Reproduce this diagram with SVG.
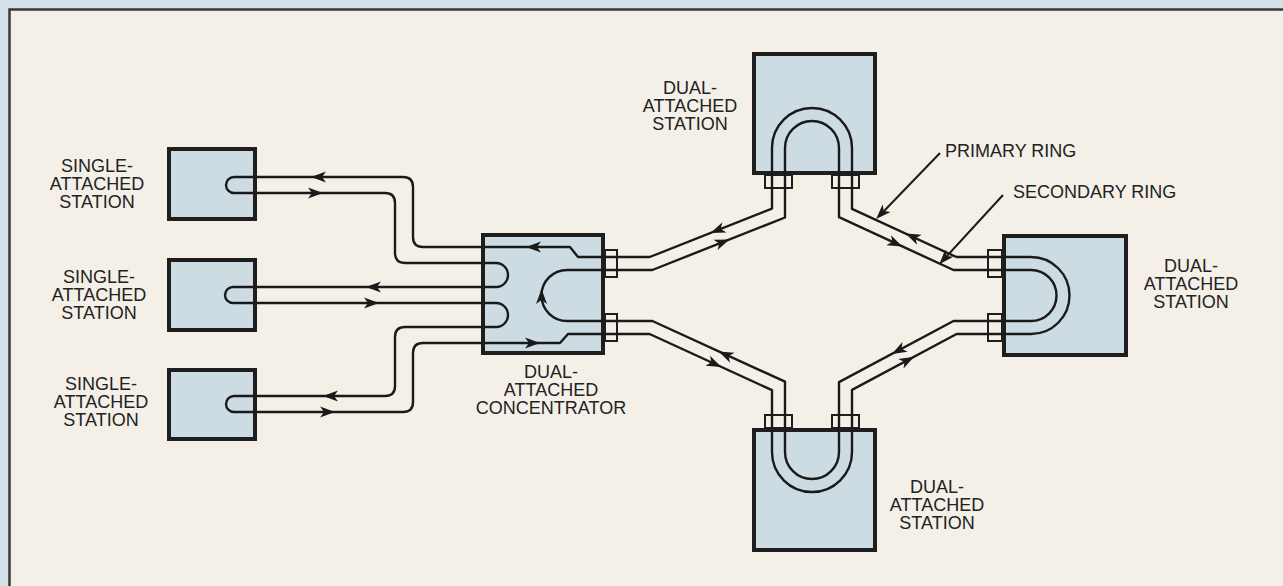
<svg xmlns="http://www.w3.org/2000/svg" width="1283" height="586" viewBox="0 0 1283 586">
<defs>
<style>
.box{fill:#cddce3;stroke:#1e1e1e;stroke-width:4}
.port{fill:#f4f0e8;stroke:#1e1e1e;stroke-width:2}
.ln{fill:none;stroke:#1a1a1a;stroke-width:2.4;stroke-linejoin:round}
.lbl{font-family:"Liberation Sans",Arial,sans-serif;font-size:18px;fill:#222;text-anchor:middle}
.cap{font-family:"Liberation Sans",Arial,sans-serif;font-size:18px;fill:#222}
.ah{fill:#1a1a1a}
</style>
<path id="ar" d="M7,0 L-8,-5.5 L-4,0 L-8,5.5 Z"/>
</defs>
<rect x="0" y="0" width="1283" height="586" fill="#d4e1e7"/>
<rect x="9.5" y="9.5" width="1280" height="580" fill="#f4f0e8" stroke="#353a3b" stroke-width="2.5"/>

<g id="sas1">
<rect class="box" x="169" y="149" width="86" height="70"/>
<text class="lbl" x="97" y="172">SINGLE-</text>
<text class="lbl" x="97" y="190">ATTACHED</text>
<text class="lbl" x="97" y="208">STATION</text>
</g>
<g id="sas2">
<rect class="box" x="169" y="260" width="86" height="70"/>
<text class="lbl" x="99" y="283">SINGLE-</text>
<text class="lbl" x="99" y="301">ATTACHED</text>
<text class="lbl" x="99" y="319">STATION</text>
</g>
<g id="sas3">
<rect class="box" x="169" y="370" width="86" height="69"/>
<text class="lbl" x="101" y="390">SINGLE-</text>
<text class="lbl" x="101" y="408">ATTACHED</text>
<text class="lbl" x="101" y="426">STATION</text>
</g>
<g id="concentrator">
<rect class="box" x="483" y="235" width="120" height="118"/>
<rect class="port" x="605" y="250" width="12" height="27"/>
<rect class="port" x="605" y="314" width="12" height="27"/>
<path class="ln" d="M617,270 L567,270 A25.5,25.5 0 0 0 567,321 L617,321"/>
<use href="#ar" class="ah" transform="translate(541.5,296) rotate(-90)"/>
<text class="lbl" x="551" y="378">DUAL-</text>
<text class="lbl" x="551" y="396">ATTACHED</text>
<text class="lbl" x="551" y="414">CONCENTRATOR</text>
</g>
<g id="das-top">
<rect class="box" x="754" y="54" width="121" height="119"/>
<rect class="port" x="765" y="175" width="27" height="13"/>
<rect class="port" x="832" y="175" width="27" height="13"/>
<path class="ln" d="M772,188 L772,148 A40,40 0 0 1 852,148 L852,188"/>
<path class="ln" d="M785,188 L785,148 A27,27 0 0 1 839,148 L839,188"/>
<text class="lbl" x="690" y="94">DUAL-</text>
<text class="lbl" x="690" y="112">ATTACHED</text>
<text class="lbl" x="690" y="130">STATION</text>
</g>
<g id="das-right">
<rect class="box" x="1004" y="236" width="122" height="119"/>
<rect class="port" x="988" y="250" width="14" height="27"/>
<rect class="port" x="988" y="314" width="14" height="27"/>
<path class="ln" d="M988,257 L1031,257 A38.5,38.5 0 0 1 1031,334 L988,334"/>
<path class="ln" d="M988,270 L1031,270 A25.5,25.5 0 0 1 1031,321 L988,321"/>
<text class="lbl" x="1191" y="272">DUAL-</text>
<text class="lbl" x="1191" y="290">ATTACHED</text>
<text class="lbl" x="1191" y="308">STATION</text>
</g>
<g id="das-bottom">
<rect class="box" x="754" y="430" width="121" height="120"/>
<rect class="port" x="765" y="415" width="27" height="13"/>
<rect class="port" x="832" y="415" width="27" height="13"/>
<path class="ln" d="M772,415 L772,452 A40,40 0 0 0 852,452 L852,415"/>
<path class="ln" d="M785,415 L785,452 A27,27 0 0 0 839,452 L839,415"/>
<text class="lbl" x="937" y="493">DUAL-</text>
<text class="lbl" x="937" y="511">ATTACHED</text>
<text class="lbl" x="937" y="529">STATION</text>
</g>

<g id="connectors">
<path class="ln" d="M617,257 L578,257 L570,247 L423,247 Q413,247 413,237 L413,187 Q413,177 403,177 L234,177 A8,8 0 0 0 234,193 L385,193 Q395,193 395,203 L395,253 Q395,263 405,263 L496,263 A12,12 0 0 1 496,287 L233,287 A8,8 0 0 0 233,303 L496,303 A12,12 0 0 1 496,327 L405,327 Q395,327 395,337 L395,386 Q395,396 385,396 L234,396 A8,8 0 0 0 234,412 L403,412 Q413,412 413,402 L413,353 Q413,343 423,343 L560,343 L568,334 L617,334"/>
<path class="ln" d="M617,257 L649.7,257 L772,208.6 L772,188"/>
<path class="ln" d="M617,270 L652.3,270 L785,217.5 L785,188"/>
<path class="ln" d="M852,188 L852,208.9 L956.4,257 L988,257"/>
<path class="ln" d="M839,188 L839,217.2 L953.5,270 L988,270"/>
<path class="ln" d="M617,321 L652.4,321 L785,381.7 L785,415"/>
<path class="ln" d="M617,334 L649.6,334 L772,390.2 L772,415"/>
<path class="ln" d="M839,415 L839,382.1 L953.5,321 L988,321"/>
<path class="ln" d="M852,415 L852,389.9 L956.6,334 L988,334"/>
<g class="ah">
<use href="#ar" transform="translate(318,177) rotate(180)"/>
<use href="#ar" transform="translate(316,193)"/>
<use href="#ar" transform="translate(373,287) rotate(180)"/>
<use href="#ar" transform="translate(372,303)"/>
<use href="#ar" transform="translate(330,396) rotate(180)"/>
<use href="#ar" transform="translate(328,412)"/>
<use href="#ar" transform="translate(533,247) rotate(180)"/>
<use href="#ar" transform="translate(533,343)"/>
<use href="#ar" transform="translate(717,230.4) rotate(158.4)"/>
<use href="#ar" transform="translate(723,242) rotate(-21.6)"/>
<use href="#ar" transform="translate(896,243.5) rotate(24.75)"/>
<use href="#ar" transform="translate(912,236.5) rotate(204.75)"/>
<use href="#ar" transform="translate(725,354.3) rotate(204.6)"/>
<use href="#ar" transform="translate(715,364) rotate(24.7)"/>
<use href="#ar" transform="translate(898,350.6) rotate(151.9)"/>
<use href="#ar" transform="translate(908,360) rotate(-28.1)"/>
</g>
</g>

<g id="label-primary">
<line x1="940" y1="153" x2="884" y2="211" stroke="#1a1a1a" stroke-width="2"/>
<use href="#ar" class="ah" transform="translate(881,214) rotate(134)"/>
<text class="cap" x="945" y="157">PRIMARY RING</text>
</g>
<g id="label-secondary">
<line x1="1003" y1="195" x2="947" y2="256" stroke="#1a1a1a" stroke-width="2"/>
<use href="#ar" class="ah" transform="translate(944,259) rotate(132.5)"/>
<text class="cap" x="1013" y="198">SECONDARY RING</text>
</g>
</svg>
